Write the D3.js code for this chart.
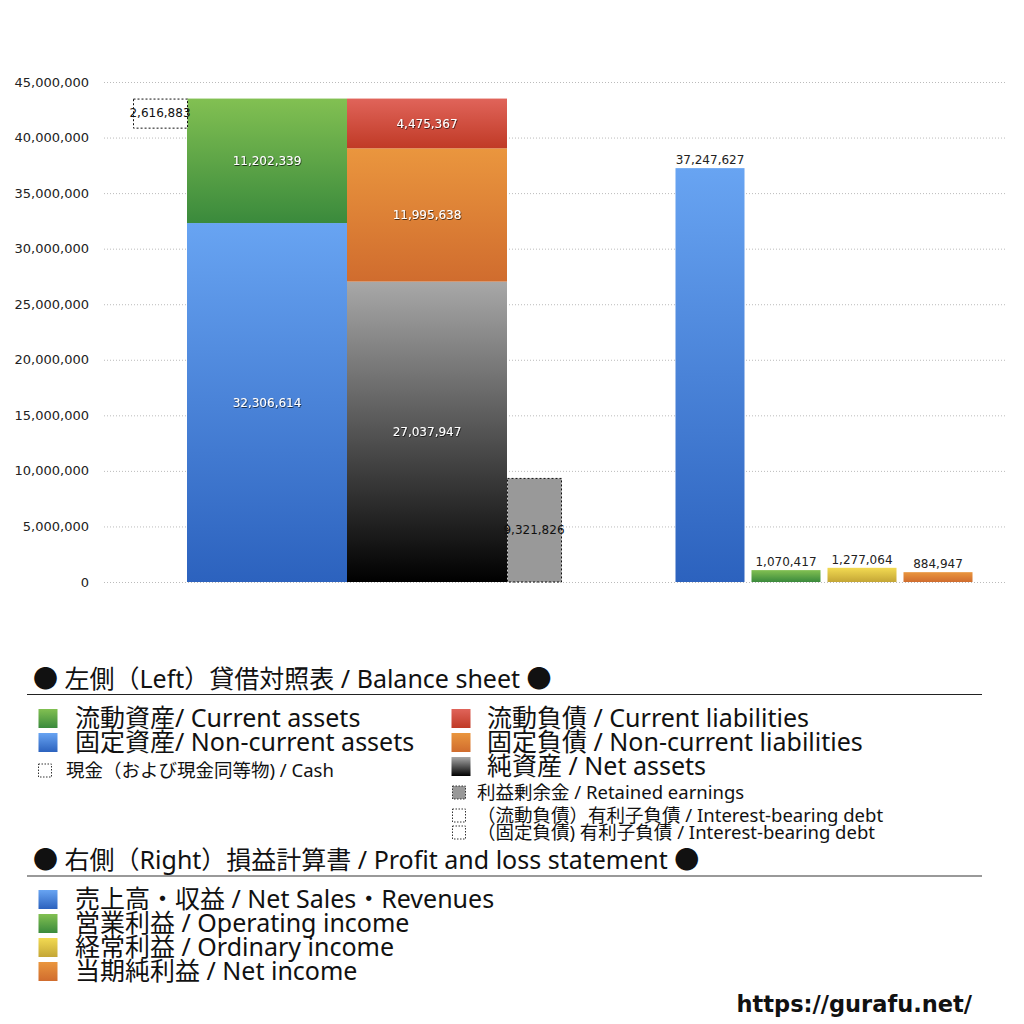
<!DOCTYPE html>
<html>
<head>
<meta charset="utf-8">
<script src="https://cdn.jsdelivr.net/npm/d3@7"></script>
<style>
  body { margin: 0; background: #fff; }
  svg text { font-family: "DejaVu Sans", "Noto Sans CJK JP", sans-serif; }
  svg text.leg { font-family: "Noto Sans", "Noto Sans CJK JP", sans-serif; }
</style>
</head>
<body>
<div id="chart"></div>
<script>
// balance sheet (left) values
const assetKeys = ["固定資産", "流動資産"];
const assetValues = [32306614, 11202339];
const liabKeys = ["純資産", "固定負債", "流動負債"];
const liabValues = [27037947, 11995638, 4475367];
const cashValue = 2616883;
const retainedValue = 9321826;

// profit and loss (right) values
const plKeys = ["売上高", "営業利益", "経常利益", "当期純利益"];
const plValues = [37247627, 1070417, 1277064, 884947];

const yTicks = [0, 5e6, 10e6, 15e6, 20e6, 25e6, 30e6, 35e6, 40e6, 45e6];

const legendLeftA = [
  { label: "流動資産/ Current assets", fill: "url(#g-green)" },
  { label: "固定資産/ Non-current assets", fill: "url(#g-blue)" }
];
const legendLeftB = [
  { label: "流動負債 /  Current liabilities", fill: "url(#g-red)" },
  { label: "固定負債 / Non-current liabilities", fill: "url(#g-orange)" },
  { label: "純資産 / Net assets", fill: "url(#g-black)" }
];
const legendSmallB = [
  { label: "利益剰余金 / Retained earnings", fill: "#999" },
  { label: "（流動負債）有利子負債 / Interest-bearing debt", fill: "none" },
  { label: "（固定負債) 有利子負債 / Interest-bearing debt", fill: "none" }
];
const legendPL = [
  { label: "売上高・収益 / Net Sales・Revenues", fill: "url(#g-blue)" },
  { label: "営業利益 / Operating income", fill: "url(#g-green)" },
  { label: "経常利益 / Ordinary income", fill: "url(#g-yellow)" },
  { label: "当期純利益 / Net income", fill: "url(#g-orange)" }
];

const svg = d3.select("#chart").append("svg")
  .attr("width", 1024)
  .attr("height", 1024);

// gradients
const defs = svg.append("defs");
const grads = {
  "g-green": ["#82c052", "#3a8a3c"],
  "g-blue": ["#68a4f2", "#2c62be"],
  "g-red": ["#e0645a", "#c03a26"],
  "g-orange": ["#ea963e", "#d06c2e"],
  "g-black": ["#a8a8a8", "#000000"],
  "g-yellow": ["#f2da52", "#c4a636"]
};
Object.entries(grads).forEach(([id, c]) => {
  const g = defs.append("linearGradient").attr("id", id)
    .attr("x1", 0).attr("y1", 0).attr("x2", 0).attr("y2", 1);
  g.append("stop").attr("offset", "0%").attr("stop-color", c[0]);
  g.append("stop").attr("offset", "100%").attr("stop-color", c[1]);
});
const shadow = defs.append("filter").attr("id", "shadow")
  .attr("x", "-10%").attr("y", "-30%").attr("width", "120%").attr("height", "160%");
shadow.append("feDropShadow").attr("dx", 0.6).attr("dy", 0.8)
  .attr("stdDeviation", 0.6).attr("flood-color", "#000").attr("flood-opacity", 0.8);

const y = d3.scaleLinear().domain([0, 45e6]).range([582, 82]);

// grid + y axis
svg.append("g").selectAll("line")
  .data(yTicks)
  .enter().append("line")
  .attr("x1", 104).attr("x2", 1006)
  .attr("y1", d => y(d) + 0.5).attr("y2", d => y(d) + 0.5)
  .attr("stroke", "#bbb")
  .attr("stroke-dasharray", "1,2");

svg.append("g").selectAll("text")
  .data(yTicks)
  .enter().append("text")
  .attr("x", 89)
  .attr("y", d => y(d))
  .attr("dy", ".35em")
  .attr("text-anchor", "end")
  .attr("font-size", 13)
  .attr("fill", "#222")
  .text(d => d3.format(",")(d));

// left columns
const xLeft = d3.scaleBand().domain(["assets", "liabilities"]).range([187, 507]);
const sideW = 54;

function stackOf(values) {
  let acc = 0;
  return values.map(v => { const s = { y0: acc, y1: acc + v, v: v }; acc += v; return s; });
}
const assetStack = stackOf(assetValues);
const liabStack = stackOf(liabValues);
const assetFills = ["url(#g-blue)", "url(#g-green)"];
const liabFills = ["url(#g-black)", "url(#g-orange)", "url(#g-red)"];

function drawStack(col, stack, fills) {
  const g = svg.append("g");
  g.selectAll("rect")
    .data(stack)
    .enter().append("rect")
    .attr("x", xLeft(col))
    .attr("width", xLeft.bandwidth())
    .attr("y", d => y(d.y1))
    .attr("height", d => y(d.y0) - y(d.y1))
    .attr("fill", (d, i) => fills[i]);
  g.selectAll("text")
    .data(stack)
    .enter().append("text")
    .attr("x", xLeft(col) + xLeft.bandwidth() / 2)
    .attr("y", d => (y(d.y0) + y(d.y1)) / 2)
    .attr("dy", ".35em")
    .attr("text-anchor", "middle")
    .attr("font-size", 12)
    .attr("fill", "#fff")
    .attr("filter", "url(#shadow)")
    .text(d => d3.format(",")(d.v));
}
drawStack("assets", assetStack, assetFills);
drawStack("liabilities", liabStack, liabFills);

// retained earnings (right of liabilities)
const totalAssets = d3.sum(assetValues);
const retX = xLeft("liabilities") + xLeft.bandwidth();
svg.append("rect")
  .attr("x", retX + 0.5)
  .attr("y", y(retainedValue))
  .attr("width", sideW)
  .attr("height", y(0) - y(retainedValue))
  .attr("fill", "#999")
  .attr("stroke", "#111")
  .attr("stroke-dasharray", "2,2");
svg.append("text")
  .attr("x", retX + sideW / 2)
  .attr("y", (y(0) + y(retainedValue)) / 2)
  .attr("dy", ".35em")
  .attr("text-anchor", "middle")
  .attr("font-size", 12)
  .attr("fill", "#111")
  .text(d3.format(",")(retainedValue));

// cash (left of assets, hanging from top)
const cashX = xLeft("assets") - sideW;
svg.append("rect")
  .attr("x", cashX + 0.5)
  .attr("y", y(totalAssets) + 0.5)
  .attr("width", sideW)
  .attr("height", y(totalAssets - cashValue) - y(totalAssets))
  .attr("fill", "#fff")
  .attr("stroke", "#111")
  .attr("stroke-dasharray", "2,2");
svg.append("text")
  .attr("x", cashX + sideW / 2)
  .attr("y", (y(totalAssets) + y(totalAssets - cashValue)) / 2)
  .attr("dy", ".35em")
  .attr("text-anchor", "middle")
  .attr("font-size", 12)
  .attr("fill", "#111")
  .text(d3.format(",")(cashValue));

// right: profit and loss bars
const xRight = d3.scaleBand().domain(plKeys).range([672, 976])
  .paddingInner(0.092).paddingOuter(0.046);
const plFills = ["url(#g-blue)", "url(#g-green)", "url(#g-yellow)", "url(#g-orange)"];

svg.append("g").selectAll("rect")
  .data(plValues)
  .enter().append("rect")
  .attr("x", (d, i) => xRight(plKeys[i]))
  .attr("width", xRight.bandwidth())
  .attr("y", d => y(d))
  .attr("height", d => y(0) - y(d))
  .attr("fill", (d, i) => plFills[i]);

svg.append("g").selectAll("text")
  .data(plValues)
  .enter().append("text")
  .attr("x", (d, i) => xRight(plKeys[i]) + xRight.bandwidth() / 2)
  .attr("y", d => y(d) - 4)
  .attr("text-anchor", "middle")
  .attr("font-size", 12)
  .attr("fill", "#222")
  .text(d => d3.format(",")(d));

// legend: balance sheet
svg.append("text")
  .attr("class", "leg")
  .attr("x", 33).attr("y", 688)
  .attr("font-size", 25)
  .attr("fill", "#111")
  .text("● 左側（Left）貸借対照表 / Balance sheet ●");
svg.append("line")
  .attr("x1", 27).attr("x2", 982).attr("y1", 694.5).attr("y2", 694.5)
  .attr("stroke", "#222");

function legendRows(items, x, y0, step, size, font, gap) {
  const g = svg.append("g");
  items.forEach((it, i) => {
    const yy = y0 + i * step;
    g.append("rect")
      .attr("x", x + 0.5).attr("y", yy - size / 2 + 0.5)
      .attr("width", size).attr("height", size)
      .attr("fill", it.fill)
      .attr("stroke", it.fill === "none" || it.fill === "#999" ? "#333" : "none")
      .attr("stroke-dasharray", "1.5,1.5");
    g.append("text")
      .attr("class", "leg")
      .attr("x", x + size + gap).attr("y", yy)
      .attr("dy", ".36em")
      .attr("font-size", font)
      .attr("fill", "#111")
      .text(it.label);
  });
}
legendRows(legendLeftA, 38, 718, 24, 19, 25, 18);
legendRows([{ label: "現金（および現金同等物) / Cash", fill: "none" }], 38, 770, 24, 13, 18.5, 15);
legendRows(legendLeftB, 451, 718, 24, 19, 25, 17);
legendRows(legendSmallB.slice(0, 1), 452, 792, 24, 13, 18.5, 12);
legendRows(legendSmallB.slice(1), 452, 815, 17, 13, 18.5, 12);

// legend: profit and loss
svg.append("text")
  .attr("class", "leg")
  .attr("x", 33).attr("y", 869)
  .attr("font-size", 25)
  .attr("fill", "#111")
  .text("● 右側（Right）損益計算書 / Profit and loss statement ●");
svg.append("line")
  .attr("x1", 27).attr("x2", 982).attr("y1", 876).attr("y2", 876)
  .attr("stroke", "#777").attr("stroke-width", 1.5);

legendRows(legendPL, 38, 899, 24, 19, 25, 18);

svg.append("text")
  .attr("x", 972).attr("y", 1012)
  .attr("text-anchor", "end")
  .attr("font-size", 22.5)
  .attr("font-weight", "bold")
  .attr("fill", "#111")
  .text("https://gurafu.net/");
</script>
</body>
</html>
